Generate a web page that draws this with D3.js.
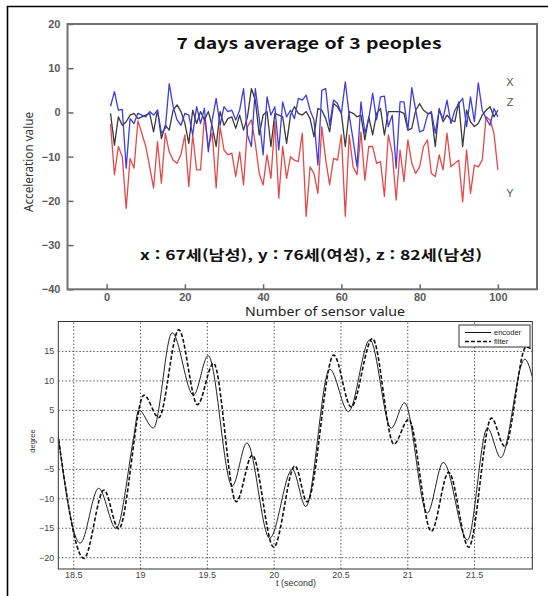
<!DOCTYPE html>
<html lang="ko">
<head>
<meta charset="UTF-8">
<title>Acceleration and encoder charts</title>
<script src="https://d3js.org/d3.v7.min.js"></script>
<style>
  body { margin: 0; background: #fff; }
  svg { display: block; background: #fff; }
  .top-tick text { font-family: "Liberation Sans", Arial, sans-serif; font-size: 11px; font-weight: bold; fill: #5a5a5a; }
  .bot-tick text { font-family: "Liberation Sans", Arial, sans-serif; font-size: 9px; fill: #444; }
</style>
</head>
<body>
<svg width="548" height="596"></svg>
<script>
// ---- top chart: 7 days average (index 1..100) ----
const xAxisVals = [1.4,4.7,0.5,0.7,-12.6,-1.4,-2.5,-0.2,-0.6,-1,
  0.2,-0.6,0.5,-4.7,-3.6,6.5,1.3,-1.7,-2.9,-0.2,
  -0.6,-5.1,1.3,-2.5,0.9,-8.9,-1.7,3.2,-2.9,1.3,
  0.2,0.5,-1.7,0.5,5.4,-5.1,-7.7,5.4,-1.4,-9.6,
  3.5,-0.6,1.3,-8.5,2.4,-1,0.5,-1.4,3.2,2.8,
  3.9,0.5,-1.7,-11.9,5,5.4,-2.9,2.8,2,-0.2,
  6.9,-0.6,-6.2,-12.3,2.4,-4.7,-1.4,4.3,-1.7,3.5,
  3.7,-3.2,-0.6,-12.6,2.4,2.4,-4,5.6,0.5,-4.4,
  -4,-0.6,0.2,-4.7,0.5,-1.4,2.8,-2.5,0.5,2,
  3.2,-3.2,3.5,-2.1,6.7,0.5,-1.4,-2.9,0.9,-1];
const yAxisVals = [-2.6,-14.1,-7.7,-10,-21.7,-10.4,-12.6,-1.9,-4.7,-7.7,
  -12.3,-17.1,-6.6,-16,-4.7,-8.9,-10.8,-11.5,-9.5,-5.1,
  -16.8,-5.1,-13,-13,-1,-7.7,-4.7,-17.1,-3.2,-8.5,
  -9.6,-9.2,-14.5,-8.9,-16.4,-3.2,-1.7,-7,-13.8,-16.4,
  -9.6,-14.9,-2.1,-19.4,-7.7,-14.9,-10,-10.8,-11.1,-4.7,
  -23.5,-12.3,-13.8,-18.3,-3.2,-10.8,-16.4,-10.4,-10.8,-5.1,
  -23.5,-5.1,-12.3,-14.1,-4.4,-15.3,-7.7,-7.7,-11.5,-11.1,
  -19,-5.1,-9.2,-19.8,-8.5,-15.6,-6.2,-11.5,-13.8,-12.3,
  -7.7,-6.2,-13.8,-14.5,-9.6,-13,-4.7,-12.3,-11.5,-10.8,
  -20.2,-8.5,-18.3,-11.9,-12.3,-10.8,-1,-1.7,-4.7,-13];
const zAxisVals = [-0.2,-7.4,-1,-2.9,-2.1,-0.6,-0.2,-1.4,-1,-0.6,
  -0.2,-4.4,0.5,-5.9,-2.9,-4,0.5,1.7,0.2,-2.5,
  -7,0.5,-2.5,0.2,-1.7,0.2,-3.2,-7.7,0.2,-2.9,
  -1.4,-1,-3.6,-0.6,-4,-1,5.4,2.8,-5.1,-0.6,
  0.2,-7.7,-0.2,-0.6,-1,-7,-0.6,1.3,-0.2,-0.6,
  0.2,-1.4,-5.5,0.9,0.5,-1.4,-4.4,2,1.3,-0.2,
  -7.7,0.2,-0.2,-1,-0.6,-6.2,-1,-5.1,-0.2,0.9,
  -5.1,0.2,0.2,0.2,0.2,-0.2,-4,-3.6,0.5,2,
  0.5,-0.2,-0.2,-7.7,0.9,-2.1,-0.6,-1.7,-2.1,2.4,
  -7.7,0.5,-2.1,-3.2,-2.5,-0.6,0.5,1.3,-1,0.5];
const topXTicks = [0, 20, 40, 60, 80, 100];
const topYTicks = [-40, -30, -20, -10, 0, 10, 20];

// ---- bottom chart: encoder vs filter (turning points) ----
const encT = [18.377,18.552,18.69,18.82,18.95,18.99,19.10,19.24,19.40,19.51,19.69,19.80,19.97,20.14,20.24,20.42,20.56,20.72,20.88,20.98,21.15,21.27,21.45,21.60,21.70,21.88,21.94];
const encV = [2.3,-17.6,-8.3,-15.1,0,5.0,1.9,18.1,7.5,14.2,-7.9,-0.6,-16.8,-5.1,-11.4,11.9,4.7,16.9,1.9,6.2,-12.5,-3.9,-17.1,1.9,-3.1,13.6,10.3];
const filT = [18.39,18.58,18.73,18.84,19.03,19.14,19.29,19.43,19.55,19.72,19.84,20.0,20.16,20.25,20.45,20.58,20.74,20.90,21.01,21.18,21.31,21.46,21.63,21.73,21.89,21.94];
const filV = [0,-20.2,-8.6,-15.2,7.5,3.7,18.6,5.9,12.9,-10.6,-2.7,-18.3,-4.5,-10.6,14.3,5.5,17.1,-0.8,3.4,-15.6,-5.6,-18.3,3.6,-1.2,15.7,15.1];
const botXTicks = [18.5, 19, 19.5, 20, 20.5, 21, 21.5];
const botYTicks = [-20, -15, -10, -5, 0, 5, 10, 15];

const svg = d3.select("svg");

// outer frame (only top and left edges are in view)
svg.append("path")
  .attr("d", "M7.5,596 L7.5,6.5 L548,6.5")
  .attr("fill", "none").attr("stroke", "#000").attr("stroke-width", 1.6);

// ================= top chart =================
const tx = d3.scaleLinear().domain([-10, 110]).range([67.5, 537]);
const ty = d3.scaleLinear().domain([-40, 20]).range([289.3, 24]);
const topG = svg.append("g");

topG.append("g").attr("class", "top-tick")
  .attr("transform", `translate(${tx.range()[0]},0)`)
  .call(d3.axisLeft(ty).tickValues(topYTicks).tickSizeInner(-6).tickSizeOuter(0).tickPadding(7))
  .call(g => g.select(".domain").remove())
  .call(g => g.selectAll("line").attr("stroke", "#666").attr("stroke-width", 1.5));

topG.append("g").attr("class", "top-tick")
  .attr("transform", `translate(0,${ty.range()[0]})`)
  .call(d3.axisBottom(tx).tickValues(topXTicks).tickSizeInner(-5).tickSizeOuter(0).tickPadding(4))
  .call(g => g.select(".domain").remove())
  .call(g => g.selectAll("line").attr("stroke", "#666").attr("stroke-width", 1.5));

topG.append("rect")
  .attr("x", tx.range()[0]).attr("y", ty.range()[1])
  .attr("width", tx.range()[1] - tx.range()[0])
  .attr("height", ty.range()[0] - ty.range()[1])
  .attr("fill", "none").attr("stroke", "#707070").attr("stroke-width", 2);

const topLine = d3.line().x((d, i) => tx(i + 1)).y(d => ty(d));
const topSeries = [
  { vals: yAxisVals, color: "#e54848" },
  { vals: zAxisVals, color: "#3a3a3a" },
  { vals: xAxisVals, color: "#3d3de0" }
];
topG.selectAll(".series").data(topSeries).join("path")
  .attr("class", "series")
  .attr("d", d => topLine(d.vals))
  .attr("fill", "none")
  .attr("stroke", d => d.color)
  .attr("stroke-width", 1.3)
  .attr("stroke-linejoin", "round");

topG.append("text")
  .attr("x", 309).attr("y", 49)
  .attr("text-anchor", "middle")
  .attr("textLength", 265).attr("lengthAdjust", "spacingAndGlyphs")
  .style("font-family", "'Noto Sans CJK KR', 'Noto Sans', sans-serif")
  .style("font-size", "15px").style("font-weight", "bold").style("fill", "#111")
  .text("7 days average of 3 peoples");

topG.append("text")
  .attr("x", 311).attr("y", 260)
  .attr("text-anchor", "middle")
  .attr("textLength", 342).attr("lengthAdjust", "spacingAndGlyphs")
  .style("font-family", "'Noto Sans CJK KR', sans-serif")
  .style("font-size", "13.5px").style("font-weight", "bold").style("fill", "#111")
  .text("x : 67세(남성), y : 76세(여성), z : 82세(남성)");

const seriesTags = [["X", 82], ["Z", 102], ["Y", 193]];
topG.selectAll(".tag").data(seriesTags).join("text")
  .attr("class", "tag")
  .attr("x", 510).attr("y", d => d[1]).attr("dy", "0.35em")
  .attr("text-anchor", "middle")
  .style("font-family", "'Liberation Sans', Arial, sans-serif")
  .style("font-size", "11px").style("fill", "#555")
  .text(d => d[0]);

topG.append("text")
  .attr("transform", "translate(33,162) rotate(-90)")
  .attr("text-anchor", "middle")
  .attr("textLength", 100).attr("lengthAdjust", "spacingAndGlyphs")
  .style("font-family", "'Noto Sans', sans-serif")
  .style("font-size", "13px").style("fill", "#333")
  .text("Acceleration value");

topG.append("text")
  .attr("x", 325).attr("y", 316)
  .attr("text-anchor", "middle")
  .attr("textLength", 160).attr("lengthAdjust", "spacingAndGlyphs")
  .style("font-family", "'Noto Sans', sans-serif")
  .style("font-size", "13px").style("fill", "#222")
  .text("Number of sensor value");

// ================= bottom chart =================
const bx = d3.scaleLinear().domain([18.388, 21.936]).range([58.3, 532.3]);
const by = d3.scaleLinear().domain([-22, 20]).range([569, 321.5]);
const botG = svg.append("g");
const bw = bx.range()[1] - bx.range()[0];
const bh = by.range()[0] - by.range()[1];

// dotted grid
botG.append("g")
  .attr("transform", `translate(0,${by.range()[0]})`)
  .call(d3.axisBottom(bx).tickValues(botXTicks).tickSize(-bh).tickFormat(""))
  .call(g => g.select(".domain").remove())
  .call(g => g.selectAll("line").attr("stroke", "#555").attr("stroke-dasharray", "1.5,2"));
botG.append("g")
  .attr("transform", `translate(${bx.range()[0]},0)`)
  .call(d3.axisLeft(by).tickValues(botYTicks).tickSize(-bw).tickFormat(""))
  .call(g => g.select(".domain").remove())
  .call(g => g.selectAll("line").attr("stroke", "#555").attr("stroke-dasharray", "1.5,2"));

// tick labels
botG.append("g").attr("class", "bot-tick")
  .attr("transform", `translate(0,${by.range()[0]})`)
  .call(d3.axisBottom(bx).tickValues(botXTicks).tickSize(0).tickPadding(3).tickFormat(d3.format("")))
  .call(g => g.select(".domain").remove());
botG.append("g").attr("class", "bot-tick")
  .attr("transform", `translate(${bx.range()[0]},0)`)
  .call(d3.axisLeft(by).tickValues(botYTicks).tickSize(0).tickPadding(4))
  .call(g => g.select(".domain").remove());

botG.append("clipPath").attr("id", "botClip")
  .append("rect").attr("x", bx.range()[0]).attr("y", by.range()[1]).attr("width", bw).attr("height", bh);

const curve = d3.line().curve(d3.curveMonotoneX).x(d => bx(d[0])).y(d => by(d[1]));
const encPts = encT.map((t, i) => [t, encV[i]]);
const filPts = filT.map((t, i) => [t, filV[i]]);

botG.append("path").attr("clip-path", "url(#botClip)")
  .attr("d", curve(encPts))
  .attr("fill", "none").attr("stroke", "#222").attr("stroke-width", 1);
botG.append("path").attr("clip-path", "url(#botClip)")
  .attr("d", curve(filPts))
  .attr("fill", "none").attr("stroke", "#111").attr("stroke-width", 1.6)
  .attr("stroke-dasharray", "4,2");

botG.append("rect")
  .attr("x", bx.range()[0]).attr("y", by.range()[1]).attr("width", bw).attr("height", bh)
  .attr("fill", "none").attr("stroke", "#333").attr("stroke-width", 1);

// legend
const leg = botG.append("g").attr("transform", "translate(459,325)");
leg.append("rect").attr("width", 71).attr("height", 22)
  .attr("fill", "#fff").attr("stroke", "#333").attr("stroke-width", 1);
const legItems = [["encoder", 1, null], ["filter", 1.6, "4,2"]];
legItems.forEach((d, i) => {
  const yy = 7.5 + i * 9;
  leg.append("line").attr("x1", 6).attr("x2", 32).attr("y1", yy).attr("y2", yy)
    .attr("stroke", "#111").attr("stroke-width", d[1]).attr("stroke-dasharray", d[2]);
  leg.append("text").attr("x", 35).attr("y", yy).attr("dy", "0.35em")
    .style("font-family", "'Liberation Sans', Arial, sans-serif")
    .style("font-size", "7.5px").style("fill", "#222")
    .text(d[0]);
});

botG.append("text")
  .attr("x", 296).attr("y", 586)
  .attr("text-anchor", "middle")
  .style("font-family", "'Liberation Sans', Arial, sans-serif")
  .style("font-size", "9px").style("fill", "#333")
  .text("t (second)");

botG.append("text")
  .attr("transform", "translate(35,441) rotate(-90)")
  .attr("text-anchor", "middle")
  .style("font-family", "'Liberation Sans', Arial, sans-serif")
  .style("font-size", "7.5px").style("fill", "#333")
  .text("degree");
</script>
</body>
</html>
